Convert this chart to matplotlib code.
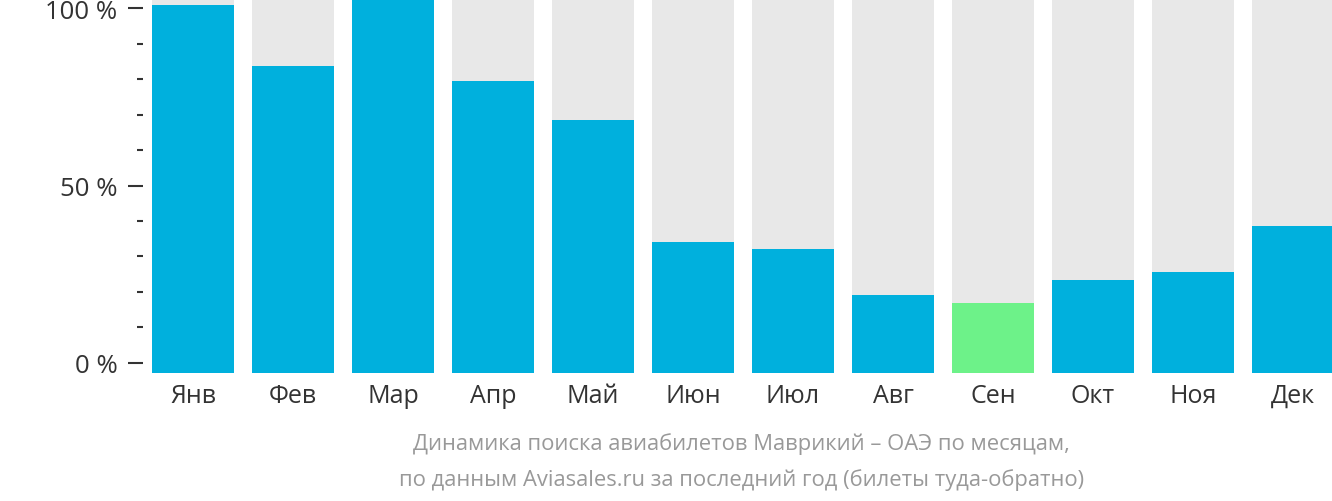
import matplotlib.pyplot as plt
from matplotlib.ticker import MultipleLocator

plt.rcParams['font.family'] = ['Open Sans', 'DejaVu Sans']

months = ['Янв', 'Фев', 'Мар', 'Апр', 'Май', 'Июн',
          'Июл', 'Авг', 'Сен', 'Окт', 'Ноя', 'Дек']
values = [100.8, 83.7, 103.0, 79.4, 68.5, 34.1, 32.1, 19.2, 17.0, 23.4, 25.6, 38.6]
highlight = 'Сен'  # cheapest month
yticks = [0, 50, 100]
ytick_labels = ['0 %', '50 %', '100 %']
caption = ['Динамика поиска авиабилетов Маврикий – ОАЭ по месяцам,',
           'по данным Aviasales.ru за последний год (билеты туда-обратно)']

blue = '#00b0dd'
green = '#6df289'
grey = '#e8e8e8'

y_lo, y_hi = -2.82, 102.54

fig = plt.figure(figsize=(13.32, 5.02), dpi=100)
ax = fig.add_axes([152 / 1332, 1 - 374 / 502, 1180 / 1332, 374 / 502])

x = list(range(len(months)))
# grey background columns
ax.bar(x, [y_hi - y_lo] * len(x), bottom=y_lo, width=0.82, color=grey, linewidth=0)
colors = [green if m == highlight else blue for m in months]
ax.bar(x, [v - y_lo for v in values], bottom=y_lo, width=0.82, color=colors, linewidth=0)

ax.set_xlim(-0.41, 11.39)
ax.set_ylim(y_lo, y_hi)

for s in ax.spines.values():
    s.set_visible(False)
ax.spines['left'].set_position(('outward', 6.5))

ax.set_yticks(yticks)
ax.set_yticklabels(ytick_labels)
ax.yaxis.set_minor_locator(MultipleLocator(10))
ax.tick_params(axis='y', which='major', length=10.8, width=1.5, color='#333333',
               labelsize=18.5, labelcolor='#333333', pad=7.5)
ax.tick_params(axis='y', which='minor', length=4.3, width=1.5, color='#333333')

ax.set_xticks(x)
ax.set_xticklabels(months)
ax.tick_params(axis='x', length=0, labelsize=18, labelcolor='#333333', pad=7)

fig.text(741.5 / 1332, 1 - 444 / 502, caption[0], ha='center', va='center',
         fontsize=15.8, color='#999999')
fig.text(741.5 / 1332, 1 - 480 / 502, caption[1], ha='center', va='center',
         fontsize=15.8, color='#999999')

fig.savefig('out.png', dpi=100)
